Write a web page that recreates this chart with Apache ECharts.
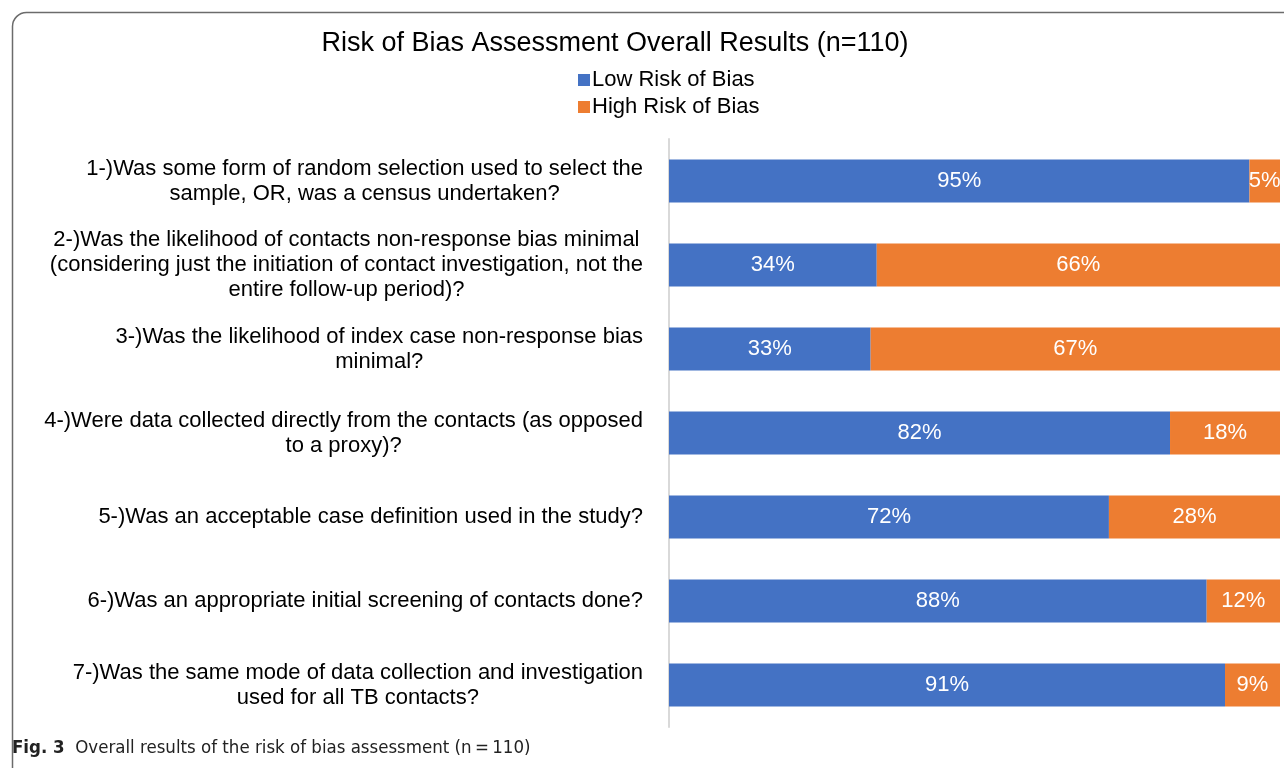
<!DOCTYPE html>
<html>
<head>
<meta charset="utf-8">
<script src="https://cdn.jsdelivr.net/npm/echarts@6/dist/echarts.min.js"></script>
<style>html,body{margin:0;padding:0;background:#fff}#c{width:1284px;height:768px}</style>
</head>
<body>
<div id="c"></div>
<script>
const categories = [
  "1-)Was some form of random selection used to select the\nsample, OR, was a census undertaken?",
  "2-)Was the likelihood of contacts non-response bias minimal\n(considering just the initiation of contact investigation, not the\nentire follow-up period)?",
  "3-)Was the likelihood of index case non-response bias\nminimal?",
  "4-)Were data collected directly from the contacts (as opposed\nto a proxy)?",
  "5-)Was an acceptable case definition used in the study?",
  "6-)Was an appropriate initial screening of contacts done?",
  "7-)Was the same mode of data collection and investigation\nused for all TB contacts?"
];
const lowRisk = [95, 34, 33, 82, 72, 88, 91];
const highRisk = [5, 66, 67, 18, 28, 12, 9];
const seriesNames = ["Low Risk of Bias", "High Risk of Bias"];

const chart = echarts.init(document.getElementById('c'), null, {renderer: 'canvas'});
const font = "'Liberation Sans', Arial, sans-serif";
const capFont = "'Liberation Sans Narrow', 'DejaVu Sans Condensed', 'Liberation Sans', sans-serif";
const option = {
  backgroundColor: '#fff',
  animation: false,
  title: {
    text: 'Risk of Bias Assessment Overall Results (n=110)',
    left: 610, top: 25, textAlign: 'center',
    textStyle: {fontFamily: font, fontSize: 27, fontWeight: 'normal', color: '#000'}
  },
  legend: {
    orient: 'vertical', left: 573, top: 64, itemWidth: 12, itemHeight: 12, itemGap: 5,
    icon: 'rect',
    textStyle: {fontFamily: font, fontSize: 22, color: '#000', padding: [0, 0, 0, -3]},
    data: seriesNames
  },
  grid: {left: 669, right: 4, top: 139, bottom: 41, containLabel: false},
  xAxis: {type: 'value', min: 0, max: 100, show: false},
  yAxis: {
    type: 'category', inverse: true, data: categories,
    axisTick: {show: false},
    axisLine: {show: true, lineStyle: {color: '#d9d9d9', width: 2}},
    axisLabel: {
      margin: 26, color: '#000', fontFamily: font, fontSize: 22, lineHeight: 25,
      formatter: v => v.split('\n').map(l => '{c|' + l + '}').join('\n'),
      rich: {c: {align: 'center', fontFamily: font, fontSize: 22, lineHeight: 25, color: '#000'}}
    }
  },
  series: [
    {
      name: seriesNames[0], type: 'bar', stack: 'a', data: lowRisk, barWidth: '51%',
      itemStyle: {color: '#4472c4'},
      label: {show: true, position: 'inside', formatter: '{c}%', color: '#fff', fontFamily: font, fontSize: 22}
    },
    {
      name: seriesNames[1], type: 'bar', stack: 'a', data: highRisk, barWidth: '51%',
      itemStyle: {color: '#ed7d31'},
      label: {show: true, position: 'inside', formatter: '{c}%', color: '#fff', fontFamily: font, fontSize: 22}
    }
  ],
  graphic: [
    {
      type: 'rect', left: 10, top: 10, z: -1,
      shape: {width: 1320, height: 820, r: [14, 0, 0, 0]},
      style: {fill: 'none', stroke: '#6b6b6b', lineWidth: 1.5}
    },
    {
      type: 'text', left: 12, top: 739,
      style: {
        text: '{b|Fig. 3}{n|  Overall results of the risk of bias assessment (n\u2009=\u2009110)}',
        rich: {
          b: {fontFamily: capFont, fontWeight: 'bold', fontSize: 18.5, fill: '#222'},
          n: {fontFamily: capFont, fontSize: 18.5, fill: '#222'}
        }
      }
    }
  ]
};
chart.setOption(option);
</script>
</body>
</html>
